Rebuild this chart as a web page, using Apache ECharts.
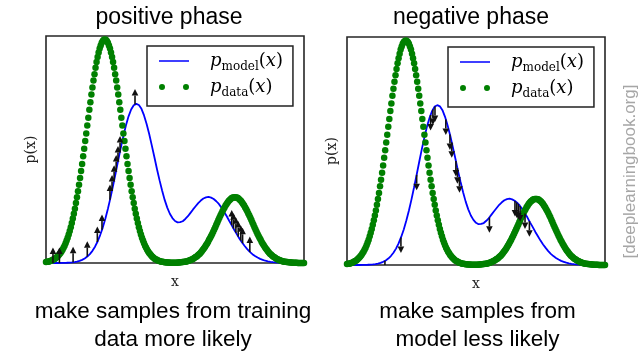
<!DOCTYPE html>
<html>
<head>
<meta charset="utf-8">
<script src="https://cdn.jsdelivr.net/npm/echarts@6/dist/echarts.min.js"></script>
<style>
  html, body { margin: 0; padding: 0; background: #fff; }
  #chart { width: 644px; height: 358px; }
</style>
</head>
<body>
<div id="chart"></div>
<script>
// Model density p_model(x), sampled every 0.1 on x in [0, 10]
const MODEL_DX = 0.1;
const modelDensity = [
  0, 0, 0, 0, 0, 0.000, 0.0004, 0.0007, 0.0011, 0.0017,
  0.0027, 0.0042, 0.0063, 0.0095, 0.0139, 0.0200, 0.0283, 0.0393, 0.0536, 0.0719,
  0.0947, 0.123, 0.156, 0.195, 0.239, 0.288, 0.341, 0.396, 0.453, 0.508,
  0.560, 0.607, 0.646, 0.676, 0.695, 0.701, 0.696, 0.679, 0.650, 0.612,
  0.568, 0.518, 0.467, 0.414, 0.365, 0.319, 0.278, 0.244, 0.217, 0.198,
  0.185, 0.179, 0.180, 0.184, 0.194, 0.206, 0.221, 0.236, 0.250, 0.264,
  0.275, 0.284, 0.289, 0.291, 0.288, 0.282, 0.272, 0.260, 0.244, 0.226,
  0.207, 0.186, 0.166, 0.145, 0.126, 0.107, 0.090, 0.075, 0.061, 0.049,
  0.039, 0.031, 0.024, 0.018, 0.014, 0.010, 0.0075, 0.0054, 0.0038, 0.0027,
  0.0019, 0.0013, 0.0009, 0.0006, 0, 0, 0, 0, 0, 0, 0
];

// Data density p_data(x), sampled every 0.04 on x in [0, 10]
const DATA_DX = 0.04;
const dataDensity = [
  0.004, 0.005, 0.006, 0.007, 0.009, 0.010, 0.012, 0.015, 0.017, 0.020,
  0.024, 0.028, 0.033, 0.038, 0.044, 0.051, 0.058, 0.067, 0.076, 0.087,
  0.099, 0.111, 0.126, 0.141, 0.158, 0.176, 0.196, 0.217, 0.239, 0.264,
  0.290, 0.316, 0.345, 0.374, 0.405, 0.436, 0.470, 0.503, 0.537, 0.571,
  0.606, 0.640, 0.675, 0.708, 0.742, 0.773, 0.804, 0.832, 0.860, 0.885,
  0.907, 0.927, 0.945, 0.958, 0.970, 0.978, 0.983, 0.985,
  0.983, 0.978, 0.970, 0.958, 0.945, 0.927, 0.907, 0.885, 0.860, 0.832,
  0.804, 0.773, 0.742, 0.708, 0.675, 0.640, 0.606, 0.571, 0.537, 0.503,
  0.470, 0.436, 0.405, 0.374, 0.345, 0.316, 0.290, 0.264, 0.239, 0.217,
  0.196, 0.176, 0.158, 0.141, 0.126, 0.111, 0.099, 0.087, 0.076, 0.067,
  0.058, 0.051, 0.044, 0.038, 0.033, 0.028, 0.024, 0.020, 0.017, 0.015,
  0.012, 0.010, 0.009, 0.007, 0.006, 0.005, 0.004,
  0.003, 0.003, 0.002, 0.002, 0.002, 0.001, 0.001, 0.001, 0.001, 0.001,
  0.001, 0.001, 0.001, 0.002, 0.002, 0.003, 0.003, 0.004,
  0.004, 0.005, 0.006, 0.007, 0.008, 0.010, 0.011, 0.013, 0.015, 0.017,
  0.020, 0.023, 0.026, 0.029, 0.033, 0.037, 0.041, 0.046, 0.052, 0.058,
  0.064, 0.070, 0.078, 0.085, 0.093, 0.102, 0.110, 0.119, 0.128, 0.138,
  0.148, 0.158, 0.168, 0.178, 0.189, 0.199, 0.209, 0.218, 0.228, 0.237,
  0.245, 0.253, 0.260, 0.267, 0.273, 0.278, 0.282, 0.286, 0.288, 0.289,
  0.290,
  0.289, 0.288, 0.286, 0.282, 0.278, 0.273, 0.267, 0.260, 0.253, 0.245,
  0.237, 0.228, 0.218, 0.209, 0.199, 0.189, 0.178, 0.168, 0.158, 0.148,
  0.138, 0.128, 0.119, 0.110, 0.102, 0.093, 0.085, 0.078, 0.070, 0.064,
  0.058, 0.052, 0.046, 0.041, 0.037, 0.033, 0.029, 0.026, 0.023, 0.020,
  0.017, 0.015, 0.013, 0.011, 0.010, 0.008, 0.007, 0.006, 0.005, 0.004,
  0.004, 0.003, 0.003, 0.002, 0.002, 0.001, 0.001, 0.001, 0.001, 0.001,
  0.000, 0.000, 0.000, 0.000, 0.000, 0.000, 0.000
];

// Positive phase: samples drawn from the training data (pushed up)
const positiveSamples = [0.27, 0.52, 1.05, 1.60, 1.99, 2.17, 2.48, 2.56, 2.64, 2.72,
  2.79, 2.87, 3.45, 7.20, 7.27, 7.36, 7.45, 7.55, 7.62, 7.90];
// Negative phase: samples drawn from the model (pushed down)
const negativeSamples = [1.47, 2.09, 2.70, 3.24, 3.33, 3.41, 3.83, 3.99, 4.06, 4.22,
  4.28, 4.36, 5.52, 6.51, 6.58, 6.64, 6.71, 6.90, 7.07];

const panelTitles = ['positive phase', 'negative phase'];
const panelCaptions = [
  ['make samples from training', 'data more likely'],
  ['make samples from', 'model less likely']
];

// ---- drawing ----
const ARROW_LEN = 0.068;   // arrow length in density units
const HEAD_LEN = 6.5, HEAD_HALF = 3.3;

const modelPts = modelDensity.map((v, i) => [i * MODEL_DX, v]);
const dataPts = dataDensity.map((v, i) => [i * DATA_DX, v]);

// p_model at an arbitrary x
function modelAt(x) {
  const t = x / MODEL_DX;
  const i = Math.min(Math.floor(t), modelDensity.length - 2);
  const f = t - i;
  return modelDensity[i] * (1 - f) + modelDensity[i + 1] * f;
}

function arrowRenderer(dir) {
  return function (params, api) {
    const x = api.value(0), b = api.value(1);
    const p0 = api.coord([x, b]);
    const p1 = api.coord([x, b + dir * ARROW_LEN]);
    const s = dir > 0 ? 1 : -1;           // head base lies below the tip when pointing up
    const hy = p1[1] + s * HEAD_LEN;
    return {
      type: 'group',
      children: [
        { type: 'line', shape: { x1: p0[0], y1: p0[1], x2: p1[0], y2: hy },
          style: { stroke: '#111', lineWidth: 1.6 } },
        { type: 'polygon', shape: { points: [[p1[0], p1[1]], [p1[0] - HEAD_HALF, hy], [p1[0] + HEAD_HALF, hy]] },
          style: { fill: '#111' } }
      ]
    };
  };
}

const grids = [
  { left: 46, top: 36, width: 258, height: 227 },
  { left: 347, top: 37, width: 258, height: 228 }
];

const serifFont = '"DejaVu Serif", "Liberation Serif", serif';
const sansFont = '"Liberation Sans", Arial, sans-serif';

// legend keys: a plain stroke for the model, a pair of dots for the data
const LINE_KEY = 'path://M0,0H0.01V0.01H0ZM0,2.15H30V3.85H0ZM29.99,5.99H30V6H29.99Z';
const DOTS_KEY = 'path://M0,3A3,3,0,1,1,6,3A3,3,0,1,1,0,3ZM24,3A3,3,0,1,1,30,3A3,3,0,1,1,24,3Z';

const xAxes = [], yAxes = [], series = [], legends = [];
grids.forEach((g, p) => {
  Object.assign(g, { show: true, borderColor: '#262626', borderWidth: 1.6, backgroundColor: '#fff', outerBoundsMode: 'none' });
  xAxes.push({
    gridIndex: p, type: 'value', min: 0, max: 10,
    name: 'x', nameLocation: 'middle', nameGap: 12,
    nameTextStyle: { fontFamily: serifFont, fontSize: 14, color: '#222' },
    axisLine: { show: false }, axisTick: { show: false }, axisLabel: { show: false }, splitLine: { show: false }
  });
  yAxes.push({
    gridIndex: p, type: 'value', min: 0, max: 1,
    name: 'p(x)', nameLocation: 'middle', nameGap: 8, nameRotate: 90,
    nameTextStyle: { fontFamily: serifFont, fontSize: 14, color: '#222' },
    axisLine: { show: false }, axisTick: { show: false }, axisLabel: { show: false }, splitLine: { show: false }
  });
  series.push({
    type: 'line', name: 'p_model', xAxisIndex: p, yAxisIndex: p, data: modelPts,
    symbol: 'none', showSymbol: false, z: 2, silent: true,
    lineStyle: { color: '#0000ff', width: 1.8 }, itemStyle: { color: '#0000ff' }
  });
  series.push({
    type: 'scatter', name: 'p_data', xAxisIndex: p, yAxisIndex: p, data: dataPts,
    symbolSize: 6.5, z: 3, silent: true,
    itemStyle: { color: '#008000', opacity: 1 }
  });
  const samples = p === 0 ? positiveSamples : negativeSamples;
  series.push({
    type: 'custom', xAxisIndex: p, yAxisIndex: p, z: 4, clip: true, silent: true,
    data: samples.map(x => [x, modelAt(x)]),
    renderItem: arrowRenderer(p === 0 ? 1 : -1)
  });
  legends.push({
    orient: 'vertical', left: g.left + 101, top: g.top + 10,
    itemWidth: 30, itemHeight: 6, itemGap: 5,
    padding: [6, 10, 7, 12],
    borderColor: '#222', borderWidth: 1.5, borderRadius: 0, backgroundColor: '#fff',
    selectedMode: false,
    data: [
      { name: 'p_model', icon: LINE_KEY },
      { name: 'p_data', icon: DOTS_KEY }
    ],
    formatter: name => name === 'p_model'
      ? '{gap| }{it|p}{sub|model}{rm|(}{it|x}{rm|)}'
      : '{gap| }{it|p}{sub|data}{rm|(}{it|x}{rm|)}',
    textStyle: {
      color: '#000',
      rich: {
        gap: { width: 16, lineHeight: 24 },
        it: { fontFamily: serifFont, fontStyle: 'italic', fontSize: 18, lineHeight: 24, color: '#000' },
        rm: { fontFamily: serifFont, fontSize: 18, lineHeight: 24, color: '#000' },
        sub: { fontFamily: serifFont, fontSize: 12, lineHeight: 13, verticalAlign: 'bottom', color: '#000' }
      }
    }
  });
});

function label(text, x, y, size, extra) {
  return Object.assign({
    type: 'text', x: x, y: y, silent: true,
    style: {
      text: text, font: size + 'px ' + sansFont, fill: '#000',
      align: 'center', verticalAlign: 'middle', textAlign: 'center', textVerticalAlign: 'middle'
    }
  }, extra || {});
}

const graphics = [
  label(panelTitles[0], 169, 17.5, 23),
  label(panelTitles[1], 471, 17.5, 23),
  label(panelCaptions[0][0], 173, 311.5, 22.5),
  label(panelCaptions[0][1], 173, 340, 22.5),
  label(panelCaptions[1][0], 477.5, 311.5, 22.5),
  label(panelCaptions[1][1], 477.5, 340, 22.5),
  label('[deeplearningbook.org]', 630.5, 171.5, 17, { rotation: Math.PI / 2 })
];
graphics[graphics.length - 1].style.fill = '#a6a6a6';

const chart = echarts.init(document.getElementById('chart'), null, { renderer: 'canvas' });
chart.setOption({
  animation: false,
  backgroundColor: '#fff',
  grid: grids,
  xAxis: xAxes,
  yAxis: yAxes,
  legend: legends,
  series: series,
  graphic: graphics
});
</script>
</body>
</html>
